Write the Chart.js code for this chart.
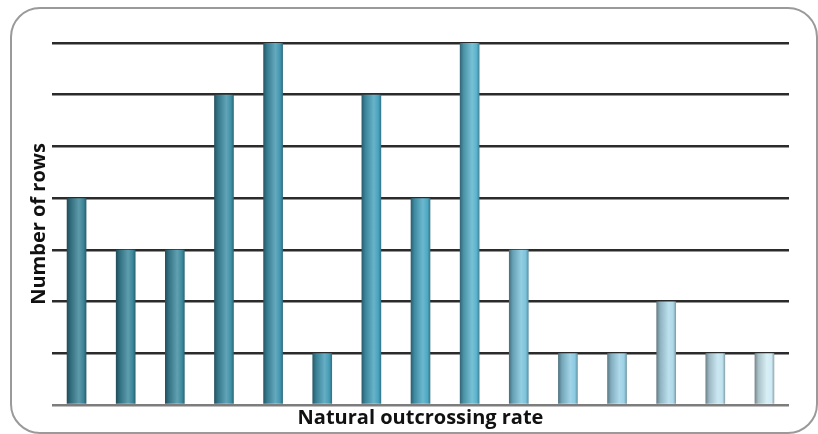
<!DOCTYPE html>
<html lang="en">
<head>
  <meta charset="UTF-8">
  <title>Natural outcrossing rate</title>
  <script src="https://cdn.jsdelivr.net/npm/chart.js"></script>
  <style>
    body {
      margin: 0;
      background: white;
      font-family: "Open Sans", sans-serif;
    }
    .frame {
      position: absolute;
      left: 10px;
      top: 7px;
      width: 804px;
      height: 423px;
      border: 2px solid #9a9a9a;
      border-radius: 30px;
    }
    canvas {
      position: absolute;
      left: 0;
      top: 0;
    }
  </style>
</head>
<body>
  <div class="frame"></div>
  <canvas id="rateChart" width="818" height="434"></canvas>

  <script>
    const categories = ['1', '2', '3', '4', '5', '6', '7', '8', '9', '10', '11', '12', '13', '14', '15'];
    const rowCounts = [4, 3, 3, 6, 7, 1, 6, 4, 7, 3, 1, 1, 2, 1, 1];
    const barColors = ['#3a8497', '#3b879b', '#3d8ba0', '#3f90a7', '#4296b0', '#459cb6', '#48a2bd', '#4ca8c4',
                       '#5ab3cc', '#7cc3dc', '#8ccbe2', '#9cd2e6', '#aed9ea', '#c0e3ef', '#d0ebf4'];

    function hexToRgb(hex) {
      const n = parseInt(hex.slice(1), 16);
      return [(n >> 16) & 255, (n >> 8) & 255, n & 255];
    }
    function shade(hex, f) {
      const c = hexToRgb(hex).map(v => f <= 1 ? v * f : v + (255 - v) * (f - 1));
      return 'rgb(' + c.map(v => Math.round(v)).join(',') + ')';
    }

    // cylinder-ish horizontal shading for each bar
    function barFill(context) {
      const i = context.dataIndex;
      const chart = context.chart;
      if (i === undefined) return barColors[0];
      const base = barColors[i];
      if (!chart.chartArea) return base;
      const x = chart.scales.x.getPixelForValue(i);
      const half = 10;
      const g = chart.ctx.createLinearGradient(x - half, 0, x + half, 0);
      g.addColorStop(0, shade(base, 0.55));
      g.addColorStop(0.2, shade(base, 0.82));
      g.addColorStop(0.62, shade(base, 1.18));
      g.addColorStop(0.85, shade(base, 1.0));
      g.addColorStop(1, shade(base, 0.68));
      return g;
    }

    const ctx = document.getElementById('rateChart').getContext('2d');
    new Chart(ctx, {
      type: 'bar',
      data: {
        labels: categories,
        datasets: [{
          data: rowCounts,
          backgroundColor: barFill,
          borderWidth: 0,
          categoryPercentage: 1,
          barPercentage: 0.4
        }]
      },
      options: {
        responsive: false,
        animation: false,
        devicePixelRatio: 1,
        layout: {
          padding: { left: 23, right: 29, top: 43, bottom: 4 }
        },
        plugins: {
          legend: { display: false },
          tooltip: { enabled: false }
        },
        scales: {
          x: {
            grid: { display: false, drawTicks: false },
            border: { display: false },
            ticks: { display: false },
            title: {
              display: true,
              text: 'Natural outcrossing rate',
              color: '#111',
              font: { family: 'Open Sans', size: 20, weight: 'bold' },
              padding: { top: 1, bottom: 0 }
            }
          },
          y: {
            min: 0,
            max: 7,
            ticks: { display: false, stepSize: 1 },
            border: { display: false },
            grid: {
              drawTicks: false,
              lineWidth: 2.5,
              color: c => c.tick && c.tick.value === 0 ? '#7d7d7d' : '#2b2b2b'
            },
            title: {
              display: true,
              text: 'Number of rows',
              color: '#111',
              font: { family: 'Open Sans', size: 20, weight: 'bold' },
              padding: { top: 4, bottom: 1 }
            }
          }
        }
      }
    });
  </script>
</body>
</html>
